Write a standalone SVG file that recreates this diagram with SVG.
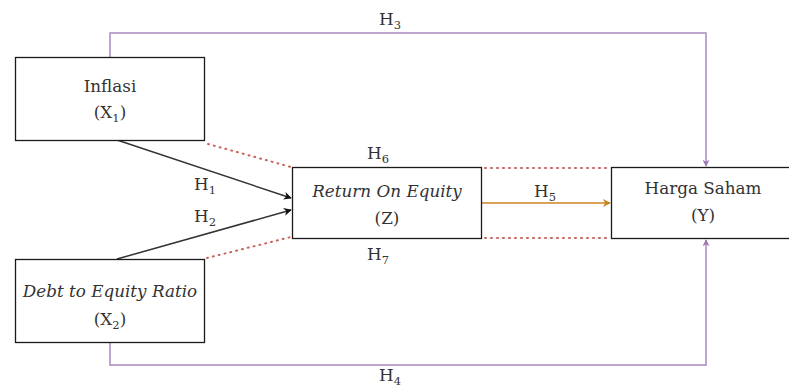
<svg xmlns="http://www.w3.org/2000/svg" width="789" height="389" viewBox="0 0 789 389">
<defs>
<style>
.box{fill:#fff;stroke:#1a1a1a;stroke-width:1.3}
.t{font-family:'DejaVu Serif','Liberation Serif',serif;font-size:16.8px;fill:#333;text-anchor:middle}
.i{font-style:italic}
.s{font-size:11.5px}
.purple{fill:none;stroke:#a98cc0;stroke-width:1.5}
.dot{fill:none;stroke:#c9625c;stroke-width:2;stroke-dasharray:1 5;stroke-linecap:round}
.blk{fill:none;stroke:#333;stroke-width:1.5}
.org{fill:none;stroke:#cc8320;stroke-width:1.5}
</style>
<marker id="ap" viewBox="0 0 10 10" refX="9" refY="5" markerWidth="7" markerHeight="7" markerUnits="userSpaceOnUse" orient="auto"><path d="M0,0 L10,5 L0,10 L3,5 Z" fill="#9a78b3"/></marker>
<marker id="ab" viewBox="0 0 10 10" refX="9" refY="5" markerWidth="8" markerHeight="8" markerUnits="userSpaceOnUse" orient="auto"><path d="M0,0 L10,5 L0,10 L3,5 Z" fill="#111"/></marker>
<marker id="ao" viewBox="0 0 10 10" refX="9" refY="5" markerWidth="8" markerHeight="8" markerUnits="userSpaceOnUse" orient="auto"><path d="M0,0 L10,5 L0,10 L3,5 Z" fill="#cc8320"/></marker>
</defs>
<g id="connectors">
<path class="purple" d="M110,57 V33 H706 V166" marker-end="url(#ap)"/>
<path class="purple" d="M110,342 V365 H706 V240" marker-end="url(#ap)"/>
<path class="blk" d="M117,140 L291,198" marker-end="url(#ab)"/>
<path class="blk" d="M117,259 L291,210" marker-end="url(#ab)"/>
<path class="org" d="M482,203 H610" marker-end="url(#ao)"/>
<path class="dot" d="M208,144 L291,167"/>
<path class="dot" d="M207,258 L291,237"/>
<path class="dot" d="M485,168 H610"/>
<path class="dot" d="M485,238 H610"/>
<text class="t" x="390" y="25">H<tspan class="s" dy="4">3</tspan></text>
<text class="t" x="205" y="190">H<tspan class="s" dy="4">1</tspan></text>
<text class="t" x="205" y="222">H<tspan class="s" dy="4">2</tspan></text>
<text class="t" x="378" y="159">H<tspan class="s" dy="4">6</tspan></text>
<text class="t" x="545" y="197">H<tspan class="s" dy="4">5</tspan></text>
<text class="t" x="378" y="260">H<tspan class="s" dy="4">7</tspan></text>
<text class="t" x="390" y="381">H<tspan class="s" dy="4">4</tspan></text>
</g>
<g id="inflasi">
<rect class="box" x="15.5" y="57.5" width="189" height="83"/>
<text class="t" x="110" y="92">Inflasi</text>
<text class="t" x="110" y="118">(X<tspan class="s" dy="4">1</tspan><tspan dy="-4">)</tspan></text>
</g>
<g id="der">
<rect class="box" x="15.5" y="259.5" width="189" height="83"/>
<text class="t i" x="110" y="297">Debt to Equity Ratio</text>
<text class="t" x="110" y="325">(X<tspan class="s" dy="4">2</tspan><tspan dy="-4">)</tspan></text>
</g>
<g id="roe">
<rect class="box" x="292.5" y="167.5" width="189" height="71"/>
<text class="t i" x="387" y="197">Return On Equity</text>
<text class="t" x="387" y="224">(Z)</text>
</g>
<g id="harga">
<rect class="box" x="611.5" y="167.5" width="189" height="71"/>
<text class="t" x="703" y="194">Harga Saham</text>
<text class="t" x="703" y="221">(Y)</text>
</g>
</svg>
